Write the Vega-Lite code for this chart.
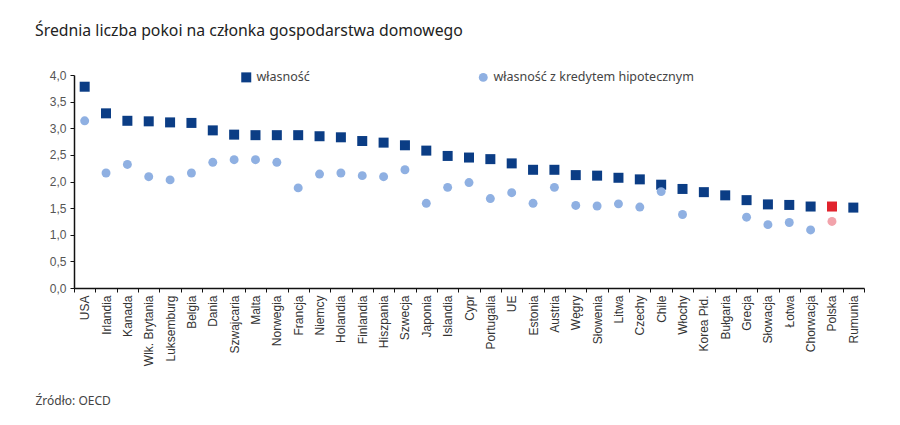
{
  "$schema": "https://vega.github.io/schema/vega-lite/v6.json",
  "width": 790,
  "height": 213,
  "autosize": {"type": "none"},
  "padding": {"left": 74, "top": 75, "right": 36, "bottom": 137},
  "background": "#ffffff",
  "title": {
    "text": "Średnia liczba pokoi na członka gospodarstwa domowego",
    "anchor": "start",
    "frame": "group",
    "dx": -39,
    "offset": 29,
    "font": "Noto Sans",
    "fontSize": 15.8,
    "fontWeight": "normal",
    "color": "#222222"
  },
  "config": {
    "view": {"stroke": null},
    "font": "Liberation Sans"
  },
  "data": {
    "values": [
      {"kraj": "USA", "seria": "własność", "wartosc": 3.78},
      {"kraj": "Irlandia", "seria": "własność", "wartosc": 3.28},
      {"kraj": "Kanada", "seria": "własność", "wartosc": 3.14},
      {"kraj": "Wlk. Brytania", "seria": "własność", "wartosc": 3.13},
      {"kraj": "Luksemburg", "seria": "własność", "wartosc": 3.11},
      {"kraj": "Belgia", "seria": "własność", "wartosc": 3.10},
      {"kraj": "Dania", "seria": "własność", "wartosc": 2.96},
      {"kraj": "Szwajcaria", "seria": "własność", "wartosc": 2.88},
      {"kraj": "Malta", "seria": "własność", "wartosc": 2.87},
      {"kraj": "Norwegia", "seria": "własność", "wartosc": 2.87},
      {"kraj": "Francja", "seria": "własność", "wartosc": 2.87},
      {"kraj": "Niemcy", "seria": "własność", "wartosc": 2.85},
      {"kraj": "Holandia", "seria": "własność", "wartosc": 2.83},
      {"kraj": "Finlandia", "seria": "własność", "wartosc": 2.76},
      {"kraj": "Hiszpania", "seria": "własność", "wartosc": 2.73},
      {"kraj": "Szwecja", "seria": "własność", "wartosc": 2.68},
      {"kraj": "Japonia", "seria": "własność", "wartosc": 2.58},
      {"kraj": "Islandia", "seria": "własność", "wartosc": 2.48},
      {"kraj": "Cypr", "seria": "własność", "wartosc": 2.45},
      {"kraj": "Portugalia", "seria": "własność", "wartosc": 2.42},
      {"kraj": "UE", "seria": "własność", "wartosc": 2.34},
      {"kraj": "Estonia", "seria": "własność", "wartosc": 2.22},
      {"kraj": "Austria", "seria": "własność", "wartosc": 2.22},
      {"kraj": "Węgry", "seria": "własność", "wartosc": 2.12},
      {"kraj": "Słowenia", "seria": "własność", "wartosc": 2.11},
      {"kraj": "Litwa", "seria": "własność", "wartosc": 2.07},
      {"kraj": "Czechy", "seria": "własność", "wartosc": 2.04},
      {"kraj": "Chile", "seria": "własność", "wartosc": 1.94},
      {"kraj": "Włochy", "seria": "własność", "wartosc": 1.86},
      {"kraj": "Korea Płd.", "seria": "własność", "wartosc": 1.80},
      {"kraj": "Bułgaria", "seria": "własność", "wartosc": 1.74},
      {"kraj": "Grecja", "seria": "własność", "wartosc": 1.65},
      {"kraj": "Słowacja", "seria": "własność", "wartosc": 1.57},
      {"kraj": "Łotwa", "seria": "własność", "wartosc": 1.56},
      {"kraj": "Chorwacja", "seria": "własność", "wartosc": 1.53},
      {"kraj": "Polska", "seria": "własność", "wartosc": 1.53},
      {"kraj": "Rumunia", "seria": "własność", "wartosc": 1.51},
      {"kraj": "USA", "seria": "własność z kredytem hipotecznym", "wartosc": 3.14},
      {"kraj": "Irlandia", "seria": "własność z kredytem hipotecznym", "wartosc": 2.16},
      {"kraj": "Kanada", "seria": "własność z kredytem hipotecznym", "wartosc": 2.32},
      {"kraj": "Wlk. Brytania", "seria": "własność z kredytem hipotecznym", "wartosc": 2.09},
      {"kraj": "Luksemburg", "seria": "własność z kredytem hipotecznym", "wartosc": 2.03},
      {"kraj": "Belgia", "seria": "własność z kredytem hipotecznym", "wartosc": 2.16},
      {"kraj": "Dania", "seria": "własność z kredytem hipotecznym", "wartosc": 2.36},
      {"kraj": "Szwajcaria", "seria": "własność z kredytem hipotecznym", "wartosc": 2.41},
      {"kraj": "Malta", "seria": "własność z kredytem hipotecznym", "wartosc": 2.41},
      {"kraj": "Norwegia", "seria": "własność z kredytem hipotecznym", "wartosc": 2.36},
      {"kraj": "Francja", "seria": "własność z kredytem hipotecznym", "wartosc": 1.88},
      {"kraj": "Niemcy", "seria": "własność z kredytem hipotecznym", "wartosc": 2.14},
      {"kraj": "Holandia", "seria": "własność z kredytem hipotecznym", "wartosc": 2.16},
      {"kraj": "Finlandia", "seria": "własność z kredytem hipotecznym", "wartosc": 2.11},
      {"kraj": "Hiszpania", "seria": "własność z kredytem hipotecznym", "wartosc": 2.09},
      {"kraj": "Szwecja", "seria": "własność z kredytem hipotecznym", "wartosc": 2.22},
      {"kraj": "Japonia", "seria": "własność z kredytem hipotecznym", "wartosc": 1.59},
      {"kraj": "Islandia", "seria": "własność z kredytem hipotecznym", "wartosc": 1.89},
      {"kraj": "Cypr", "seria": "własność z kredytem hipotecznym", "wartosc": 1.98},
      {"kraj": "Portugalia", "seria": "własność z kredytem hipotecznym", "wartosc": 1.68},
      {"kraj": "UE", "seria": "własność z kredytem hipotecznym", "wartosc": 1.79},
      {"kraj": "Estonia", "seria": "własność z kredytem hipotecznym", "wartosc": 1.59},
      {"kraj": "Austria", "seria": "własność z kredytem hipotecznym", "wartosc": 1.89},
      {"kraj": "Węgry", "seria": "własność z kredytem hipotecznym", "wartosc": 1.55},
      {"kraj": "Słowenia", "seria": "własność z kredytem hipotecznym", "wartosc": 1.54},
      {"kraj": "Litwa", "seria": "własność z kredytem hipotecznym", "wartosc": 1.58},
      {"kraj": "Czechy", "seria": "własność z kredytem hipotecznym", "wartosc": 1.52},
      {"kraj": "Chile", "seria": "własność z kredytem hipotecznym", "wartosc": 1.81},
      {"kraj": "Włochy", "seria": "własność z kredytem hipotecznym", "wartosc": 1.38},
      {"kraj": "Grecja", "seria": "własność z kredytem hipotecznym", "wartosc": 1.33},
      {"kraj": "Słowacja", "seria": "własność z kredytem hipotecznym", "wartosc": 1.19},
      {"kraj": "Łotwa", "seria": "własność z kredytem hipotecznym", "wartosc": 1.23},
      {"kraj": "Chorwacja", "seria": "własność z kredytem hipotecznym", "wartosc": 1.09},
      {"kraj": "Polska", "seria": "własność z kredytem hipotecznym", "wartosc": 1.25}
    ]
  },
  "mark": {"type": "point", "filled": true, "opacity": 1},
  "encoding": {
    "x": {
      "field": "kraj",
      "type": "nominal",
      "sort": null,
      "scale": {"paddingInner": 0, "paddingOuter": 0},
      "axis": {
        "title": "Źródło: OECD",
        "titleX": -39,
        "titleY": 112,
        "titleAlign": "left",
        "titleBaseline": "middle",
        "titleFont": "Noto Sans",
        "titleFontSize": 12,
        "titleFontWeight": "normal",
        "titleColor": "#444444",
        "labelAngle": -90,
        "labelFontSize": 12,
        "labelColor": "#333333",
        "labelPadding": 3,
        "tickBand": "extent",
        "tickSize": 4,
        "tickColor": "#111111",
        "domainColor": "#111111",
        "domainWidth": 1.5,
        "grid": false
      }
    },
    "y": {
      "field": "wartosc",
      "type": "quantitative",
      "scale": {"domain": [0, 4], "nice": false},
      "axis": {
        "title": null,
        "values": [0, 0.5, 1, 1.5, 2, 2.5, 3, 3.5, 4],
        "labelExpr": "replace(format(datum.value, '.1f'), '.', ',')",
        "labelFontSize": 12,
        "labelColor": "#555555",
        "labelPadding": 4,
        "tickSize": 4,
        "tickColor": "#111111",
        "domainColor": "#111111",
        "domainWidth": 1.5,
        "grid": false
      }
    },
    "color": {
      "field": "seria",
      "type": "nominal",
      "scale": {
        "domain": ["własność", "własność z kredytem hipotecznym"],
        "range": ["#0b3d85", "#8fb0e2"]
      },
      "condition": [
        {"test": "datum.kraj === 'Polska' && datum.seria === 'własność'", "value": "#e1232d"},
        {"test": "datum.kraj === 'Polska' && datum.seria !== 'własność'", "value": "#f2a3ab"}
      ],
      "legend": {
        "title": null,
        "orient": "none",
        "legendX": 166,
        "legendY": -4,
        "direction": "horizontal",
        "columnPadding": 167,
        "symbolSize": 45,
        "labelLimit": 400,
        "labelFont": "Noto Sans",
        "labelFontSize": 12.5,
        "labelColor": "#444444"
      }
    },
    "shape": {
      "field": "seria",
      "type": "nominal",
      "scale": {
        "domain": ["własność", "własność z kredytem hipotecznym"],
        "range": ["square", "circle"]
      }
    },
    "size": {
      "field": "seria",
      "type": "nominal",
      "scale": {
        "domain": ["własność", "własność z kredytem hipotecznym"],
        "range": [100, 80]
      },
      "legend": null
    }
  }
}
